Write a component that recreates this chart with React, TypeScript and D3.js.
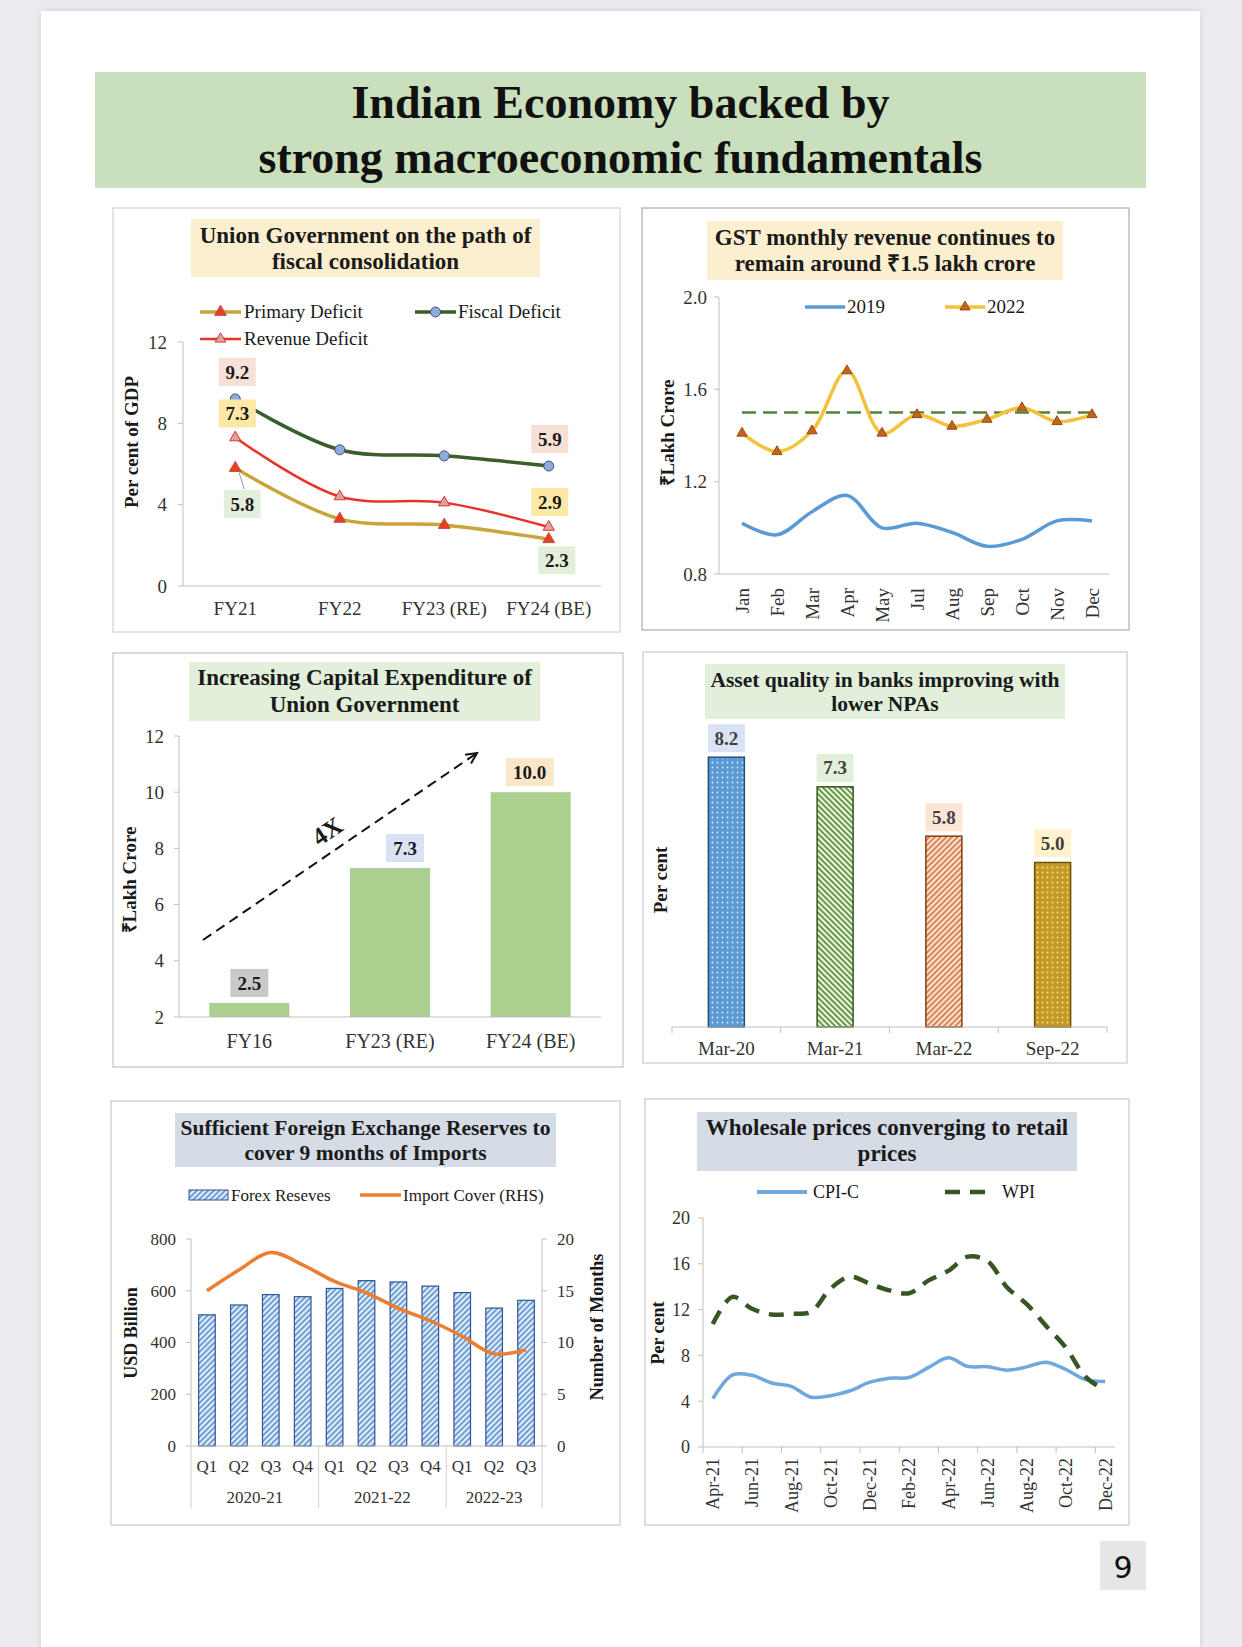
import React from 'react';
import * as d3 from 'd3';

const FONT = "'Liberation Serif', 'Times New Roman', serif";
const INK = '#1a1a1a';
const AXIS = '#bfbfbf';

// ---------- Panel 1: fiscal consolidation ----------
const fiscalYears = ['FY21', 'FY22', 'FY23 (RE)', 'FY24 (BE)'];
const fiscalDeficit = [9.2, 6.7, 6.4, 5.9];
const revenueDeficit = [7.3, 4.4, 4.1, 2.9];
const primaryDeficit = [5.8, 3.3, 3.0, 2.3];
const deficitTicks = [0, 4, 8, 12];

// ---------- Panel 2: GST ----------
const gstMonths = ['Jan', 'Feb', 'Mar', 'Apr', 'May', 'Jul', 'Aug', 'Sep', 'Oct', 'Nov', 'Dec'];
const gst2019 = [1.02, 0.97, 1.07, 1.14, 1.0, 1.02, 0.98, 0.92, 0.95, 1.03, 1.03];
const gst2022 = [1.41, 1.33, 1.42, 1.68, 1.41, 1.49, 1.44, 1.47, 1.52, 1.46, 1.49];
const gstTarget = 1.5;
const gstTicks = [0.8, 1.2, 1.6, 2.0];

// ---------- Panel 3: Capex ----------
const capexYears = ['FY16', 'FY23 (RE)', 'FY24 (BE)'];
const capexValues = [2.5, 7.3, 10.0];
const capexTicks = [2, 4, 6, 8, 10, 12];

// ---------- Panel 4: NPAs ----------
const npaDates = ['Mar-20', 'Mar-21', 'Mar-22', 'Sep-22'];
const npaValues = [8.2, 7.3, 5.8, 5.0];

// ---------- Panel 5: Forex ----------
const forexQuarters = ['Q1', 'Q2', 'Q3', 'Q4', 'Q1', 'Q2', 'Q3', 'Q4', 'Q1', 'Q2', 'Q3'];
const forexYears = ['2020-21', '2021-22', '2022-23'];
const forexYearSpans = [4, 4, 3];
const forexReserves = [507, 545, 585, 577, 609, 639, 634, 618, 593, 533, 563];
const importCover = [15.0, 17.0, 18.7, 17.5, 15.9, 14.8, 13.3, 12.1, 10.6, 8.9, 9.3];
const forexTicks = [0, 200, 400, 600, 800];
const coverTicks = [0, 5, 10, 15, 20];

// ---------- Panel 6: prices ----------
const priceMonths = [
  'Apr-21', 'May-21', 'Jun-21', 'Jul-21', 'Aug-21', 'Sep-21', 'Oct-21', 'Nov-21', 'Dec-21',
  'Jan-22', 'Feb-22', 'Mar-22', 'Apr-22', 'May-22', 'Jun-22', 'Jul-22', 'Aug-22', 'Sep-22',
  'Oct-22', 'Nov-22', 'Dec-22',
];
const cpiC = [4.23, 6.3, 6.26, 5.59, 5.3, 4.35, 4.48, 4.91, 5.66, 6.01, 6.07, 6.95, 7.79, 7.04, 7.01, 6.71, 7.0, 7.41, 6.77, 5.88, 5.72];
const wpi = [10.74, 13.11, 12.07, 11.57, 11.64, 11.8, 13.83, 14.87, 14.27, 13.68, 13.43, 14.55, 15.38, 16.63, 16.23, 13.93, 12.48, 10.55, 8.67, 6.12, 4.95];
const priceTicks = [0, 4, 8, 12, 16, 20];

const smooth = d3.curveCatmullRom.alpha(0.5);

function Frame({ x0, y0, x1, y1, stroke = '#d4d4d4' }: any) {
  return <rect x={x0} y={y0} width={x1 - x0} height={y1 - y0} fill="#fff" stroke={stroke} strokeWidth={1.5} />;
}

function TitleBox({ x0, y0, x1, y1, fill, lines, baselines, size = 23 }: any) {
  const cx = (x0 + x1) / 2;
  return (
    <g>
      <rect x={x0} y={y0} width={x1 - x0} height={y1 - y0} fill={fill} />
      {lines.map((l: string, i: number) => (
        <text key={i} x={cx} y={baselines[i]} textAnchor="middle" fontWeight="bold" fontSize={size} fill={INK}>
          {l}
        </text>
      ))}
    </g>
  );
}

function ValueBox({ cx, cy, text, fill, w = 37, h = 28, color = INK, size = 19 }: any) {
  return (
    <g>
      <rect x={cx - w / 2} y={cy - h / 2} width={w} height={h} fill={fill} />
      <text x={cx} y={cy} dy="0.35em" textAnchor="middle" fontWeight="bold" fontSize={size} fill={color}>
        {text}
      </text>
    </g>
  );
}

function YLabel({ x, y, text, size = 19 }: any) {
  return (
    <text transform={`translate(${x},${y}) rotate(-90)`} textAnchor="middle" dy="0.35em" fontWeight="bold" fontSize={size} fill={INK}>
      {text}
    </text>
  );
}

function tri(size: number) {
  return d3.symbol(d3.symbolTriangle, size)()!;
}

// ---------------- Panel 1 ----------------
function FiscalPanel() {
  const x = d3.scaleBand<string>().domain(fiscalYears).range([183, 601]);
  const cx = (i: number) => x(fiscalYears[i])! + x.bandwidth() / 2;
  const y = d3.scaleLinear().domain([0, 12]).range([586, 342]);
  const line = d3.line<number>().x((_, i) => cx(i)).y((v) => y(v)).curve(smooth);
  const last = fiscalYears.length - 1;
  return (
    <g>
      <Frame x0={113} y0={208} x1={620} y1={632} stroke="#dcdcdc" />
      <TitleBox x0={191} y0={219} x1={540} y1={277} fill="#fcefcf" lines={['Union Government on the path of', 'fiscal consolidation']} baselines={[243, 269]} />
      {/* legend */}
      <g fontSize={19} fill={INK}>
        <line x1={200} x2={241} y1={312} y2={312} stroke="#c9a43a" strokeWidth={3.5} />
        <path d={tri(60)} transform="translate(220.5,312)" fill="#e8401c" stroke="#c0504d" />
        <text x={244} y={318}>Primary Deficit</text>
        <line x1={415} x2={456} y1={312} y2={312} stroke="#3b5e2b" strokeWidth={3.5} />
        <circle cx={435.5} cy={312} r={5} fill="#8faadc" stroke="#44546a" />
        <text x={458} y={318}>Fiscal Deficit</text>
        <line x1={200} x2={241} y1={339} y2={339} stroke="#e8332a" strokeWidth={2.5} />
        <path d={tri(50)} transform="translate(220.5,339)" fill="#d4a3a3" stroke="#e8332a" />
        <text x={244} y={345}>Revenue Deficit</text>
      </g>
      {/* axes */}
      <line x1={183} x2={183} y1={y(12)} y2={y(0)} stroke={AXIS} />
      <line x1={183} x2={601} y1={y(0)} y2={y(0)} stroke={AXIS} />
      {deficitTicks.map((t) => (
        <g key={t}>
          <line x1={178} x2={183} y1={y(t)} y2={y(t)} stroke={AXIS} />
          <text x={167} y={y(t)} dy="0.35em" textAnchor="end" fontSize={19} fill="#333">{t}</text>
        </g>
      ))}
      {fiscalYears.map((f, i) => (
        <text key={f} x={cx(i)} y={615} textAnchor="middle" fontSize={19} fill="#333">{f}</text>
      ))}
      <text x={0} y={0} />
      {/* lines */}
      <path d={line(fiscalDeficit)!} fill="none" stroke="#3b5e2b" strokeWidth={3.5} />
      <path d={line(revenueDeficit)!} fill="none" stroke="#e8332a" strokeWidth={2.5} />
      <path d={line(primaryDeficit)!} fill="none" stroke="#c9a43a" strokeWidth={3.5} />
      {fiscalDeficit.map((v, i) => (
        <circle key={i} cx={cx(i)} cy={y(v)} r={5} fill="#8faadc" stroke="#44546a" />
      ))}
      {revenueDeficit.map((v, i) => (
        <path key={i} d={tri(55)} transform={`translate(${cx(i)},${y(v)})`} fill="#d4a3a3" stroke="#e8332a" />
      ))}
      {primaryDeficit.map((v, i) => (
        <path key={i} d={tri(60)} transform={`translate(${cx(i)},${y(v)})`} fill="#e8401c" stroke="#c0504d" />
      ))}
      {/* leader line for 5.8 */}
      <line x1={cx(0) + 4} y1={y(primaryDeficit[0]) + 5} x2={cx(0) + 9} y2={y(primaryDeficit[0]) + 21} stroke="#999" strokeWidth={1} />
      <YLabel x={131} y={442} text="Per cent of GDP" />
      <ValueBox cx={cx(0) + 2} cy={y(fiscalDeficit[0]) - 27} text={fiscalDeficit[0].toFixed(1)} fill="#f7e1d6" />
      <ValueBox cx={cx(0) + 2} cy={y(revenueDeficit[0]) - 24} text={revenueDeficit[0].toFixed(1)} fill="#fde8a6" />
      <ValueBox cx={cx(0) + 7} cy={y(primaryDeficit[0]) + 36} text={primaryDeficit[0].toFixed(1)} fill="#e3efdb" />
      <ValueBox cx={cx(last) + 1} cy={y(fiscalDeficit[last]) - 27} text={fiscalDeficit[last].toFixed(1)} fill="#f7e1d6" />
      <ValueBox cx={cx(last) + 1} cy={y(revenueDeficit[last]) - 25} text={revenueDeficit[last].toFixed(1)} fill="#fde8a6" />
      <ValueBox cx={cx(last) + 8} cy={y(primaryDeficit[last]) + 21} text={primaryDeficit[last].toFixed(1)} fill="#e3efdb" />
    </g>
  );
}

// ---------------- Panel 2 ----------------
function GstPanel() {
  const x = d3.scalePoint<string>().domain(gstMonths).range([742, 1092]);
  const y = d3.scaleLinear().domain([0.8, 2.0]).range([574, 297]);
  const line = d3.line<number>().x((_, i) => x(gstMonths[i])!).y((v) => y(v)).curve(smooth);
  return (
    <g>
      <Frame x0={642} y0={208} x1={1129} y1={630} stroke="#bdbdbd" />
      <TitleBox x0={707} y0={221} x1={1063} y1={280} fill="#fcefcf" lines={['GST monthly revenue continues to', 'remain around ₹1.5 lakh crore']} baselines={[245, 271]} />
      <g fontSize={19} fill={INK}>
        <line x1={805} x2={845} y1={307} y2={307} stroke="#5b9bd5" strokeWidth={3.5} />
        <text x={847} y={313}>2019</text>
        <line x1={945} x2={985} y1={307} y2={307} stroke="#f4c13b" strokeWidth={3.5} />
        <path d={tri(45)} transform="translate(965,307)" fill="#c0651e" stroke="#9c4a10" />
        <text x={987} y={313}>2022</text>
      </g>
      <line x1={719} x2={719} y1={y(2.0)} y2={y(0.8)} stroke={AXIS} />
      <line x1={719} x2={1109} y1={y(0.8)} y2={y(0.8)} stroke={AXIS} />
      {gstTicks.map((t) => (
        <g key={t}>
          <line x1={714} x2={719} y1={y(t)} y2={y(t)} stroke={AXIS} />
          <text x={707} y={y(t)} dy="0.35em" textAnchor="end" fontSize={19} fill="#333">{t.toFixed(1)}</text>
        </g>
      ))}
      {gstMonths.map((m) => (
        <text key={m} transform={`translate(${x(m)},588) rotate(-90)`} textAnchor="end" dy="0.35em" fontSize={19} fill="#333">{m}</text>
      ))}
      <line x1={x('Jan')!} x2={x('Dec')!} y1={y(gstTarget)} y2={y(gstTarget)} stroke="#548235" strokeWidth={2.5} strokeDasharray="14 7" />
      <path d={line(gst2019)!} fill="none" stroke="#5b9bd5" strokeWidth={3.5} />
      <path d={line(gst2022)!} fill="none" stroke="#f4c13b" strokeWidth={3.5} />
      {gst2022.map((v, i) => (
        <path key={i} d={tri(45)} transform={`translate(${x(gstMonths[i])},${y(v)})`} fill="#c0651e" stroke="#9c4a10" />
      ))}
      <YLabel x={667} y={433} text="₹Lakh Crore" />
    </g>
  );
}

// ---------------- Panel 3 ----------------
function CapexPanel() {
  const x = d3.scaleBand<string>().domain(capexYears).range([179, 601]);
  const cx = (i: number) => x(capexYears[i])! + x.bandwidth() / 2;
  const y = d3.scaleLinear().domain([2, 12]).range([1017, 736]);
  const bw = 80;
  const labelFills = ['#c9c9c9', '#dae3f3', '#fce6c8'];
  const labelDx = [0, 15, -1];
  const a0 = [203, 940];
  const a1 = [477, 753];
  const ang = Math.atan2(a1[1] - a0[1], a1[0] - a0[0]);
  const hl = 12;
  const head = [
    [a1[0] - hl * Math.cos(ang - 0.45), a1[1] - hl * Math.sin(ang - 0.45)],
    [a1[0], a1[1]],
    [a1[0] - hl * Math.cos(ang + 0.45), a1[1] - hl * Math.sin(ang + 0.45)],
  ];
  return (
    <g>
      <Frame x0={113} y0={653} x1={623} y1={1067} stroke="#cfcfcf" />
      <TitleBox x0={189} y0={662} x1={540} y1={721} fill="#e2efda" lines={['Increasing Capital Expenditure of', 'Union Government']} baselines={[685, 712]} />
      <line x1={179} x2={179} y1={y(12)} y2={y(2)} stroke={AXIS} />
      {capexTicks.map((t) => (
        <g key={t}>
          <line x1={174} x2={179} y1={y(t)} y2={y(t)} stroke={AXIS} />
          <text x={164} y={y(t)} dy="0.35em" textAnchor="end" fontSize={19} fill="#333">{t}</text>
        </g>
      ))}
      {capexValues.map((v, i) => (
        <rect key={i} x={cx(i) - bw / 2} y={y(v)} width={bw} height={y(2) - y(v)} fill="#a9d08e" />
      ))}
      <line x1={179} x2={601} y1={y(2)} y2={y(2)} stroke={AXIS} />
      {capexYears.map((c, i) => (
        <text key={c} x={cx(i)} y={1048} textAnchor="middle" fontSize={20} fill="#333">{c}</text>
      ))}
      {capexValues.map((v, i) => (
        <ValueBox key={i} cx={cx(i) + labelDx[i]} cy={y(v) - 20} text={v.toFixed(1)} fill={labelFills[i]} w={v >= 10 ? 48 : 38} h={28} />
      ))}
      <line x1={a0[0]} y1={a0[1]} x2={a1[0]} y2={a1[1]} stroke="#111" strokeWidth={2} strokeDasharray="10 6" />
      <polyline points={head.map((p) => p.join(',')).join(' ')} fill="none" stroke="#111" strokeWidth={2} />
      <text transform={`translate(327,831) rotate(${(ang * 180) / Math.PI})`} textAnchor="middle" dy="0.35em" fontWeight="bold" fontSize={25} fill={INK}>4X</text>
      <YLabel x={129} y={880} text="₹Lakh Crore" />
    </g>
  );
}

// ---------------- Panel 4 ----------------
function NpaPanel() {
  const x = d3.scaleBand<string>().domain(npaDates).range([672, 1107]);
  const cx = (i: number) => x(npaDates[i])! + x.bandwidth() / 2;
  const y = d3.scaleLinear().domain([0, 10]).range([1027, 698]);
  const bw = 36;
  const fills = ['url(#dotsBlue)', 'url(#stripesGreen)', 'url(#stripesOrange)', 'url(#dotsGold)'];
  const strokes = ['#1f4e79', '#375623', '#843c0c', '#6b5200'];
  const boxFills = ['#dae3f3', '#e2efda', '#fbe5d6', '#fff2cc'];
  return (
    <g>
      <Frame x0={643} y0={652} x1={1127} y1={1063} stroke="#d4d4d4" />
      <TitleBox x0={705} y0={664} x1={1065} y1={719} fill="#e2efda" lines={['Asset quality in banks improving with', 'lower NPAs']} baselines={[687, 711]} size={21.5} />
      {npaValues.map((v, i) => (
        <rect key={i} x={cx(i) - bw / 2} y={y(v)} width={bw} height={y(0) - y(v)} fill={fills[i]} stroke={strokes[i]} strokeWidth={1.5} />
      ))}
      <line x1={672} x2={1107} y1={y(0)} y2={y(0)} stroke={AXIS} />
      {d3.range(npaDates.length + 1).map((i) => {
        const xx = 672 + i * x.step();
        return <line key={i} x1={xx} x2={xx} y1={y(0)} y2={y(0) + 6} stroke={AXIS} />;
      })}
      {npaDates.map((d, i) => (
        <text key={d} x={cx(i)} y={1055} textAnchor="middle" fontSize={19} fill="#333">{d}</text>
      ))}
      {npaValues.map((v, i) => (
        <ValueBox key={i} cx={cx(i)} cy={y(v) - 19} text={v.toFixed(1)} fill={boxFills[i]} color="#3f3f3f" />
      ))}
      <YLabel x={660} y={880} text="Per cent" />
    </g>
  );
}

// ---------------- Panel 5 ----------------
function ForexPanel() {
  const x = d3.scaleBand<number>().domain(d3.range(forexQuarters.length)).range([191, 542]);
  const cx = (i: number) => x(i)! + x.bandwidth() / 2;
  const yL = d3.scaleLinear().domain([0, 800]).range([1446, 1239]);
  const yR = d3.scaleLinear().domain([0, 20]).range([1446, 1239]);
  const line = d3.line<number>().x((_, i) => cx(i)).y((v) => yR(v)).curve(smooth);
  const bw = x.bandwidth() * 0.52;
  let acc = 0;
  const bounds = [0, ...forexYearSpans.map((s) => (acc += s))];
  return (
    <g>
      <Frame x0={111} y0={1101} x1={620} y1={1525} stroke="#d4d4d4" />
      <TitleBox x0={175} y0={1113} x1={556} y1={1167} fill="#d6dce5" lines={['Sufficient Foreign Exchange Reserves to', 'cover 9 months of Imports']} baselines={[1135, 1160]} size={21.5} />
      <g fontSize={17} fill={INK}>
        <rect x={189} y={1190} width={39} height={10} fill="url(#stripesBlue)" stroke="#2f5597" strokeWidth={1} />
        <text x={231} y={1201}>Forex Reseves</text>
        <line x1={360} x2={401} y1={1195} y2={1195} stroke="#ed7d31" strokeWidth={3.5} />
        <text x={403} y={1201}>Import Cover (RHS)</text>
      </g>
      <line x1={191} x2={191} y1={yL(800)} y2={yL(0)} stroke={AXIS} />
      <line x1={542} x2={542} y1={yR(20)} y2={yR(0)} stroke={AXIS} />
      {forexTicks.map((t) => (
        <g key={t}>
          <line x1={186} x2={191} y1={yL(t)} y2={yL(t)} stroke={AXIS} />
          <text x={176} y={yL(t)} dy="0.35em" textAnchor="end" fontSize={17} fill="#333">{t}</text>
        </g>
      ))}
      {coverTicks.map((t) => (
        <g key={t}>
          <line x1={542} x2={547} y1={yR(t)} y2={yR(t)} stroke={AXIS} />
          <text x={557} y={yR(t)} dy="0.35em" textAnchor="start" fontSize={17} fill="#333">{t}</text>
        </g>
      ))}
      {forexReserves.map((v, i) => (
        <rect key={i} x={cx(i) - bw / 2} y={yL(v)} width={bw} height={yL(0) - yL(v)} fill="url(#stripesBlue)" stroke="#2f5597" strokeWidth={1.2} />
      ))}
      <line x1={191} x2={542} y1={yL(0)} y2={yL(0)} stroke={AXIS} />
      {bounds.map((b, i) => {
        const xx = 191 + b * x.step();
        return <line key={i} x1={xx} x2={xx} y1={yL(0)} y2={1508} stroke="#d0d0d0" />;
      })}
      {forexQuarters.map((q, i) => (
        <text key={i} x={cx(i)} y={1472} textAnchor="middle" fontSize={17} fill="#333">{q}</text>
      ))}
      {forexYears.map((yy, i) => (
        <text key={yy} x={191 + ((bounds[i] + bounds[i + 1]) / 2) * x.step()} y={1503} textAnchor="middle" fontSize={17} fill="#333">{yy}</text>
      ))}
      <path d={line(importCover)!} fill="none" stroke="#ed7d31" strokeWidth={3.5} />
      <YLabel x={131} y={1333} text="USD Billion" size={18} />
      <YLabel x={597} y={1327} text="Number of Months" size={18} />
    </g>
  );
}

// ---------------- Panel 6 ----------------
function PricePanel() {
  const x = d3.scaleBand<string>().domain(priceMonths).range([703, 1115]);
  const cx = (i: number) => x(priceMonths[i])! + x.bandwidth() / 2;
  const y = d3.scaleLinear().domain([0, 20]).range([1447, 1218]);
  const line = d3.line<number>().x((_, i) => cx(i)).y((v) => y(v)).curve(smooth);
  const even = priceMonths.map((_, i) => i).filter((i) => i % 2 === 0);
  return (
    <g>
      <Frame x0={645} y0={1099} x1={1129} y1={1525} stroke="#d4d4d4" />
      <TitleBox x0={697} y0={1112} x1={1077} y1={1171} fill="#d6dce5" lines={['Wholesale prices converging to retail', 'prices']} baselines={[1135, 1161]} />
      <g fontSize={18} fill={INK}>
        <line x1={757} x2={807} y1={1192} y2={1192} stroke="#6fa8dc" strokeWidth={4} />
        <text x={813} y={1198}>CPI-C</text>
        <line x1={945} x2={995} y1={1192} y2={1192} stroke="#375623" strokeWidth={4.5} strokeDasharray="15 10" />
        <text x={1002} y={1198}>WPI</text>
      </g>
      <line x1={703} x2={703} y1={y(20)} y2={y(0)} stroke={AXIS} />
      <line x1={703} x2={1115} y1={y(0)} y2={y(0)} stroke={AXIS} />
      {priceTicks.map((t) => (
        <g key={t}>
          <line x1={698} x2={703} y1={y(t)} y2={y(t)} stroke={AXIS} />
          <text x={690} y={y(t)} dy="0.35em" textAnchor="end" fontSize={18} fill="#333">{t}</text>
        </g>
      ))}
      {even.map((i) => (
        <g key={i}>
          <line x1={x(priceMonths[i])!} x2={x(priceMonths[i])!} y1={y(0)} y2={y(0) + 6} stroke={AXIS} />
          <text transform={`translate(${cx(i)},1458) rotate(-90)`} textAnchor="end" dy="0.35em" fontSize={18} fill="#333">{priceMonths[i]}</text>
        </g>
      ))}
      <path d={line(cpiC)!} fill="none" stroke="#6fa8dc" strokeWidth={3.5} />
      <path d={line(wpi)!} fill="none" stroke="#375623" strokeWidth={4.5} strokeDasharray="15 10" />
      <YLabel x={658} y={1333} text="Per cent" size={18} />
    </g>
  );
}

export default function App() {
  return (
    <svg
      width={1242}
      height={1647}
      viewBox="0 0 1242 1647"
      style={{ position: 'absolute', left: 0, top: 0, display: 'block' }}
      fontFamily={FONT}
    >
      <defs>
        <filter id="shadow" x="-5%" y="-5%" width="110%" height="110%">
          <feDropShadow dx="0" dy="0" stdDeviation="3" floodColor="#000" floodOpacity="0.12" />
        </filter>
        <pattern id="dotsBlue" width={5} height={5} patternUnits="userSpaceOnUse">
          <rect width={5} height={5} fill="#5b9bd5" />
          <circle cx={2.5} cy={2.5} r={0.9} fill="#dbe9f7" />
        </pattern>
        <pattern id="dotsGold" width={5} height={5} patternUnits="userSpaceOnUse">
          <rect width={5} height={5} fill="#c49a22" />
          <circle cx={2.5} cy={2.5} r={0.9} fill="#f3e3a8" />
        </pattern>
        <pattern id="stripesGreen" width={4} height={4} patternUnits="userSpaceOnUse" patternTransform="rotate(-45)">
          <rect width={4} height={4} fill="#eef6e8" />
          <rect width={2} height={4} fill="#6a9a45" />
        </pattern>
        <pattern id="stripesOrange" width={4} height={4} patternUnits="userSpaceOnUse" patternTransform="rotate(45)">
          <rect width={4} height={4} fill="#fbe3d2" />
          <rect width={2} height={4} fill="#d9865a" />
        </pattern>
        <pattern id="stripesBlue" width={4} height={4} patternUnits="userSpaceOnUse" patternTransform="rotate(45)">
          <rect width={4} height={4} fill="#e3eef9" />
          <rect width={2} height={4} fill="#6f9fd3" />
        </pattern>
      </defs>
      <rect width={1242} height={1647} fill="#ebebf0" />
      <rect x={41} y={11} width={1159} height={1660} fill="#ffffff" filter="url(#shadow)" />
      <rect x={95} y={72} width={1051} height={116} fill="#cadfbb" />
      <text x={620.5} y={118} textAnchor="middle" fontWeight="bold" fontSize={46} fill="#111">Indian Economy backed by</text>
      <text x={620.5} y={173} textAnchor="middle" fontWeight="bold" fontSize={46} fill="#111">strong macroeconomic fundamentals</text>
      <FiscalPanel />
      <GstPanel />
      <CapexPanel />
      <NpaPanel />
      <ForexPanel />
      <PricePanel />
      <rect x={1100} y={1541} width={46} height={49} fill="#e6e6e6" />
      <text x={1123} y={1578} textAnchor="middle" fontFamily="'DejaVu Sans', 'Noto Sans', sans-serif" fontSize={30} fill="#111">9</text>
    </svg>
  );
}
